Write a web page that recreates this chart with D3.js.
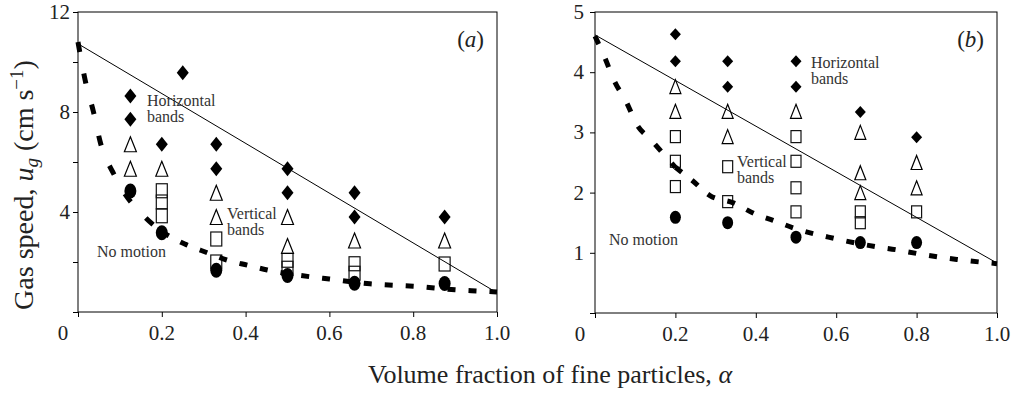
<!DOCTYPE html>
<html><head><meta charset="utf-8">
<script src="https://cdn.jsdelivr.net/npm/d3@7"></script>
<style>
html,body{margin:0;padding:0;background:#fff;}
text{font-family:"Liberation Serif","Times New Roman",serif;}
</style></head>
<body><svg id="c" width="1015" height="393"></svg>
<script>
// ---------- DATA ----------
const xTickValues = [0, 0.2, 0.4, 0.6, 0.8, 1.0];
const xTickLabels = ["0", "0.2", "0.4", "0.6", "0.8", "1.0"];
const yTicksA = [0, 2, 4, 6, 8, 10, 12];
const yLabelsA = [4, 8, 12];
const yTicksB = [0, 1, 2, 3, 4, 5];
const yLabelsB = [1, 2, 3, 4, 5];

// Panel (a)
const horizA = [[0.125,8.64],[0.125,7.71],[0.2,6.71],[0.25,9.57],[0.33,6.71],[0.33,5.73],[0.5,5.73],[0.5,4.77],[0.66,4.77],[0.66,3.8],[0.875,3.8]];
const triA = [[0.125,6.71],[0.125,5.73],[0.2,5.73],[0.33,4.77],[0.33,3.8],[0.5,3.8],[0.5,2.64],[0.66,2.86],[0.875,2.86]];
const sqA = [[0.2,4.85],[0.2,4.4],[0.2,3.85],[0.33,2.92],[0.33,2.0],[0.5,2.07],[0.5,1.75],[0.66,1.93],[0.66,1.55],[0.875,1.92]];
const noMotionA = [[0.125,4.84],[0.2,3.17],[0.33,1.67],[0.5,1.46],[0.66,1.15],[0.875,1.14]];
const solidA = [[0,10.73],[1.0,0.77]];
const dashA = [[0,10.8],[0.017,9.28],[0.037,8.0],[0.054,6.74],[0.086,5.5],[0.106,4.88],[0.156,3.86],[0.2,3.2],[0.255,2.72],[0.307,2.38],[0.355,2.08],[0.405,1.87],[0.452,1.68],[0.554,1.41],[0.6,1.32],[0.697,1.13],[0.753,1.07],[0.8,1.03],[0.9,0.89],[0.956,0.84],[1.0,0.8]];

// Panel (b)
const horizB = [[0.2,4.63],[0.2,4.18],[0.33,4.18],[0.33,3.76],[0.5,4.18],[0.5,3.76],[0.66,3.34],[0.8,2.92]];
const triB = [[0.2,3.76],[0.2,3.35],[0.33,3.35],[0.33,2.93],[0.5,3.35],[0.66,3.0],[0.66,2.33],[0.66,2.0],[0.8,2.5],[0.8,2.08]];
const sqB = [[0.2,2.93],[0.2,2.52],[0.2,2.1],[0.33,2.43],[0.33,1.85],[0.5,2.93],[0.5,2.52],[0.5,2.08],[0.5,1.68],[0.66,1.68],[0.66,1.5],[0.8,1.68]];
const noMotionB = [[0.2,1.59],[0.33,1.5],[0.5,1.26],[0.66,1.17],[0.8,1.17]];
const solidB = [[0,4.62],[1.0,0.83]];
const dashB = [[0,4.6],[0.025,4.23],[0.047,3.87],[0.079,3.49],[0.104,3.13],[0.139,2.88],[0.172,2.63],[0.2,2.42],[0.242,2.2],[0.286,1.95],[0.344,1.83],[0.4,1.64],[0.443,1.54],[0.495,1.41],[0.594,1.24],[0.7,1.1],[0.75,1.05],[0.8,0.99],[0.9,0.89],[1.0,0.82]];

// ---------- DRAW ----------
const svg = d3.select("#c");

function panel(cfg) {
  const x = d3.scaleLinear().domain([0, 1]).range([cfg.x0, cfg.x1]);
  const y = d3.scaleLinear().domain(cfg.yDomain).range([cfg.yBot, cfg.yTop]);
  const g = svg.append("g");

  g.append("rect").attr("x", cfg.x0).attr("y", cfg.yTop)
    .attr("width", cfg.x1 - cfg.x0).attr("height", cfg.yBot - cfg.yTop)
    .attr("fill", "none").attr("stroke", "#000").attr("stroke-width", 1);

  const xa = g.append("g").attr("transform", `translate(0,${cfg.yBot})`)
    .call(d3.axisBottom(x).tickValues(xTickValues).tickSize(5).tickSizeOuter(0).tickFormat(""));
  xa.select(".domain").remove();
  xa.selectAll("line").attr("stroke", "#000");
  g.selectAll(".xl").data(xTickValues).enter().append("text")
    .attr("x", (d, i) => x(d) + (i === 0 ? -15 : 0))
    .attr("y", cfg.yBot + 28)
    .attr("text-anchor", "middle").attr("font-size", 21).attr("fill", "#222")
    .text((d, i) => xTickLabels[i]);

  const ya = g.append("g").attr("transform", `translate(${cfg.x0},0)`)
    .call(d3.axisLeft(y).tickValues(cfg.yTicks).tickSize(5).tickSizeOuter(0).tickFormat(""));
  ya.select(".domain").remove();
  ya.selectAll("line").attr("stroke", "#000");
  g.selectAll(".yl").data(cfg.yLabels).enter().append("text")
    .attr("x", cfg.x0 - cfg.yLabOff).attr("y", d => y(d) + 7)
    .attr("text-anchor", "end").attr("font-size", 21).attr("fill", "#222")
    .text(d => d);

  const m = cfg.m;
  g.selectAll(".sq").data(cfg.sq).enter().append("rect")
    .attr("x", d => x(d[0]) - m.sqW / 2).attr("y", d => y(d[1]) - m.sqH / 2)
    .attr("width", m.sqW).attr("height", m.sqH)
    .attr("fill", "none").attr("stroke", "#111").attr("stroke-width", 1.2);
  g.selectAll(".tr").data(cfg.tri).enter().append("path")
    .attr("d", d => {
      const cx = x(d[0]), cy = y(d[1]), w = m.trW / 2, h = m.trH / 2;
      return `M${cx},${cy - h}L${cx + w},${cy + h}L${cx - w},${cy + h}Z`;
    })
    .attr("fill", "none").attr("stroke", "#000").attr("stroke-width", 1.2);
  g.selectAll(".dm").data(cfg.horiz).enter().append("path")
    .attr("d", d => {
      const cx = x(d[0]), cy = y(d[1]), w = m.dmW / 2, h = m.dmH / 2;
      return `M${cx},${cy - h}L${cx + w},${cy}L${cx},${cy + h}L${cx - w},${cy}Z`;
    })
    .attr("fill", "#000");
  g.selectAll(".ci").data(cfg.none).enter().append("ellipse")
    .attr("cx", d => x(d[0])).attr("cy", d => y(d[1]))
    .attr("rx", m.ciW / 2).attr("ry", m.ciH / 2).attr("fill", "#000");

  const line = d3.line().x(d => x(d[0])).y(d => y(d[1]));
  g.append("path").datum(cfg.solid).attr("d", line)
    .attr("fill", "none").attr("stroke", "#000").attr("stroke-width", 1);
  const cline = d3.line().x(d => x(d[0])).y(d => y(d[1])).curve(d3.curveMonotoneX);
  const steep = cfg.dash.filter(d => d[0] <= 0.2);
  const flat = cfg.dash.filter(d => d[0] >= 0.2);
  g.append("path").datum(steep).attr("d", cline)
    .attr("fill", "none").attr("stroke", "#000").attr("stroke-width", 5)
    .attr("stroke-dasharray", cfg.steepDash);
  g.append("path").datum(flat).attr("d", cline)
    .attr("fill", "none").attr("stroke", "#000").attr("stroke-width", 5)
    .attr("stroke-dasharray", "8,13");

  cfg.notes.forEach(n => g.append("text").attr("x", n[1]).attr("y", n[2])
    .attr("font-size", 16).attr("fill", "#333").text(n[0]));
  const lab = g.append("text").attr("x", cfg.labX).attr("y", 47)
    .attr("text-anchor", "end").attr("font-size", 23).attr("fill", "#222");
  lab.append("tspan").text("(");
  lab.append("tspan").attr("font-style", "italic").text(cfg.letter);
  lab.append("tspan").text(")");
}

panel({
  x0: 78, x1: 497, yTop: 12, yBot: 312, yDomain: [0, 12],
  yTicks: yTicksA, yLabels: yLabelsA, yLabOff: 8,
  horiz: horizA, tri: triA, sq: sqA, none: noMotionA, solid: solidA, dash: dashA,
  steepDash: "10,22",
  m: {sqW: 11, sqH: 14, trW: 12, trH: 15, dmW: 12, dmH: 15, ciW: 12, ciH: 15},
  notes: [["Horizontal", 147, 106], ["bands", 147, 122], ["Vertical", 227, 219], ["bands", 227, 235], ["No motion", 97, 257]],
  labX: 484, letter: "a"
});
panel({
  x0: 595, x1: 997, yTop: 12, yBot: 313, yDomain: [0, 5],
  yTicks: yTicksB, yLabels: yLabelsB, yLabOff: 11,
  horiz: horizB, tri: triB, sq: sqB, none: noMotionB, solid: solidB, dash: dashB,
  steepDash: "9,16",
  m: {sqW: 10, sqH: 12, trW: 11, trH: 14, dmW: 11, dmH: 12, ciW: 11, ciH: 13},
  notes: [["Horizontal", 811, 68], ["bands", 811, 84], ["Vertical", 737, 167], ["bands", 737, 183], ["No motion", 609, 245]],
  labX: 984, letter: "b"
});

const yt = svg.append("text").attr("transform", "translate(33,185) rotate(-90)")
  .attr("text-anchor", "middle").attr("font-size", 28).attr("fill", "#222");
yt.append("tspan").text("Gas speed, ");
yt.append("tspan").attr("font-style", "italic").text("u");
yt.append("tspan").attr("font-style", "italic").attr("font-size", 19).attr("dy", 5).text("g");
yt.append("tspan").attr("dy", -5).text(" (cm s");
yt.append("tspan").attr("font-size", 19).attr("dy", -10).text("−1");
yt.append("tspan").attr("dy", 10).text(")");

const xt = svg.append("text").attr("x", 550).attr("y", 383)
  .attr("text-anchor", "middle").attr("font-size", 26).attr("fill", "#222");
xt.append("tspan").text("Volume fraction of fine particles, ");
xt.append("tspan").attr("font-style", "italic").text("α");
</script></body></html>
